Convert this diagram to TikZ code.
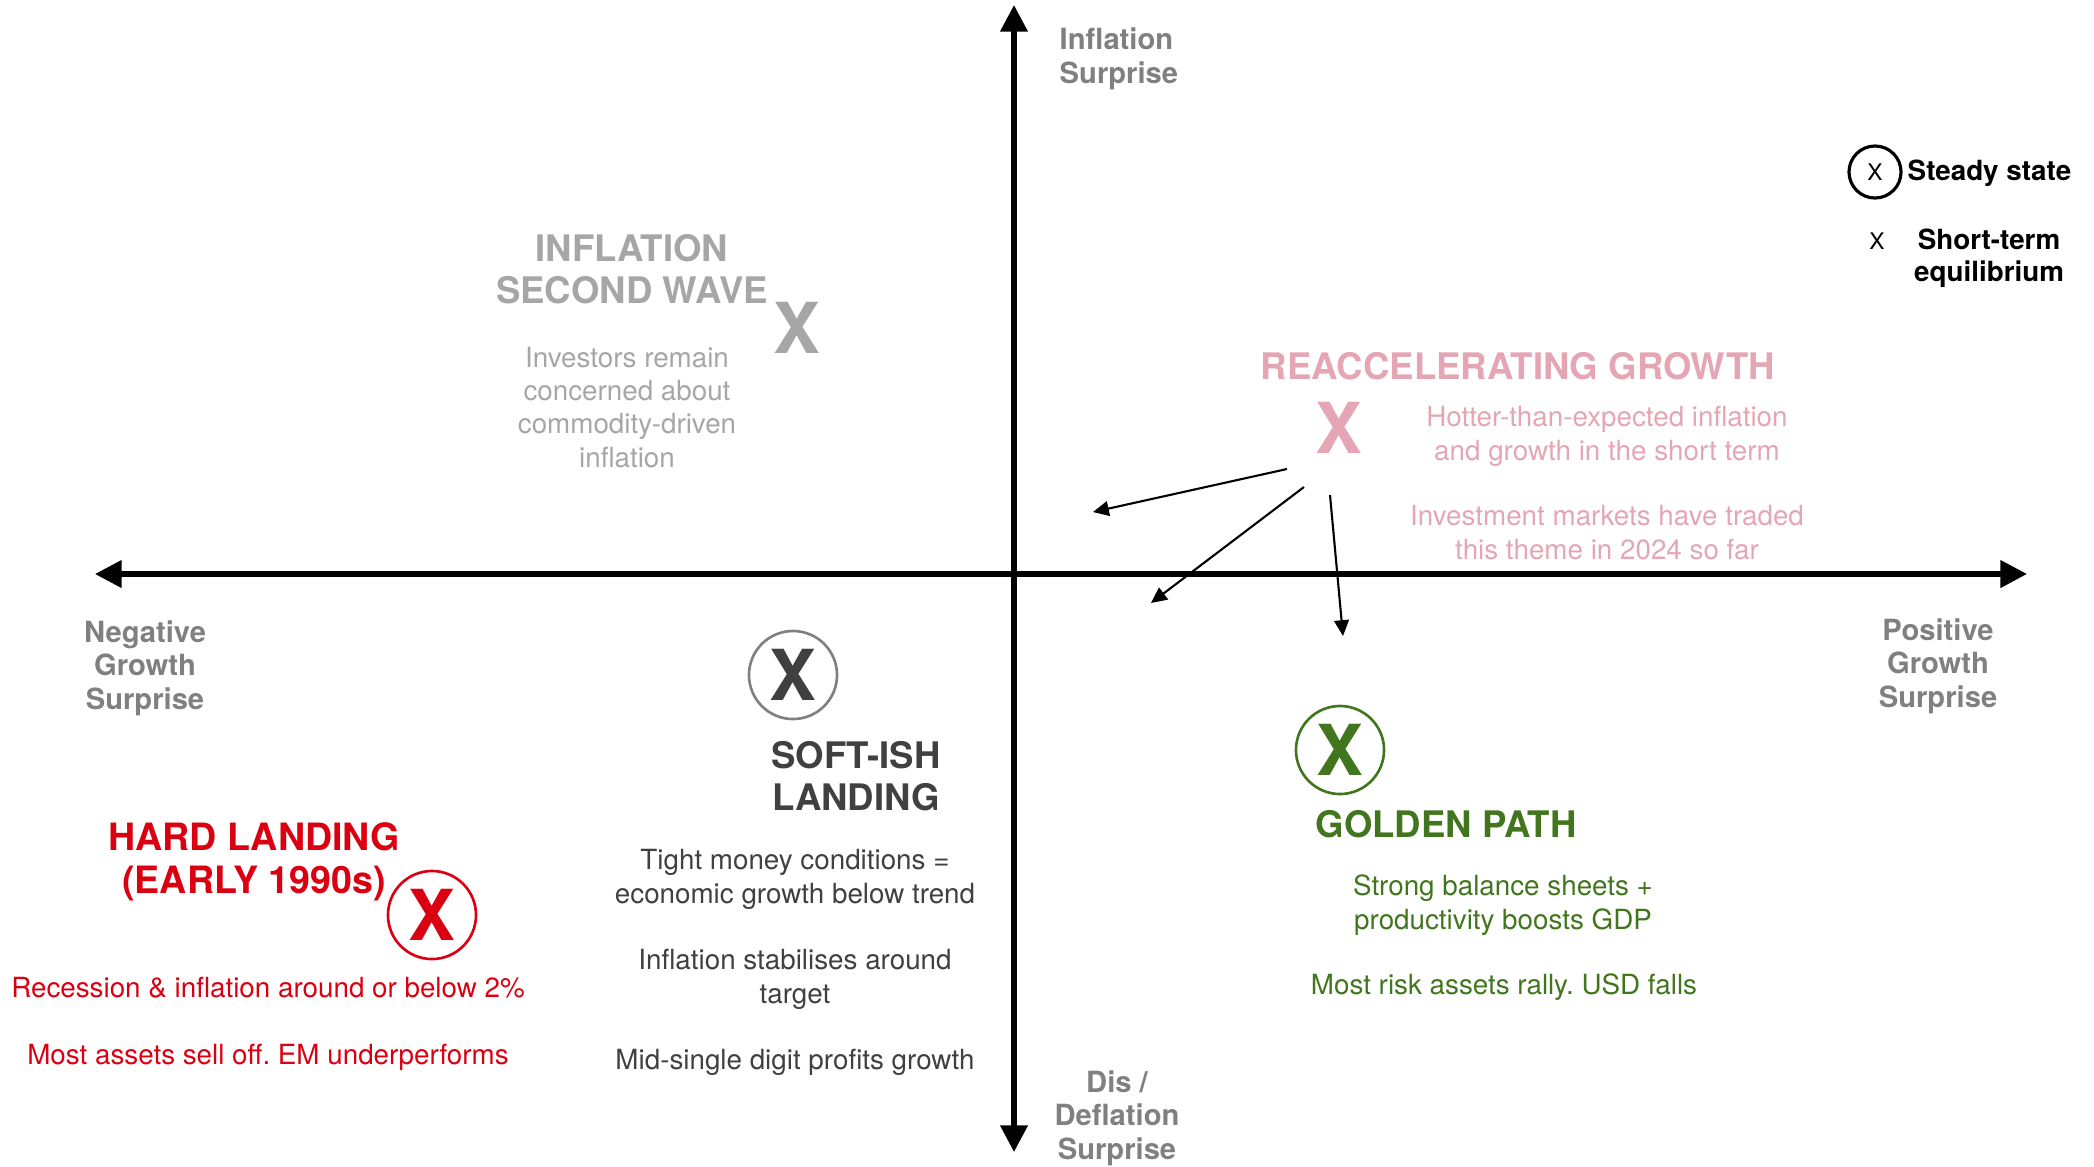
\documentclass[tikz,border=0pt]{standalone}
\usepackage{fontspec}
\setmainfont{TeX Gyre Heros}
\usetikzlibrary{arrows.meta,positioning}
\frenchspacing

\definecolor{axisgrey}{RGB}{128,128,128}
\definecolor{wavegrey}{RGB}{166,166,166}
\definecolor{reaccpink}{RGB}{228,166,180}
\definecolor{softgrey}{RGB}{64,64,64}
\definecolor{ringgrey}{RGB}{128,128,128}
\definecolor{goldgreen}{RGB}{66,118,30}
\definecolor{hardred}{RGB}{219,0,17}

\tikzset{
	axis/.style={line width=1.5pt,{Triangle[length=7.6pt,width=7.6pt]}-{Triangle[length=7.6pt,width=7.6pt]}},
	shift arrow/.style={line width=0.6pt,-{Triangle[length=4.5pt,width=4.2pt]}},
	axislabel/.style={inner sep=0pt,text=axisgrey,align=center,font={\fontsize{8.3}{9.5}\selectfont\bfseries}},
	heading/.style={inner sep=0pt,align=center,font={\fontsize{10.4}{11.8}\selectfont\bfseries}},
	body/.style={inner sep=0pt,align=center,font={\fontsize{7.9}{9.4}\selectfont}},
	bigx/.style={inner sep=0pt,font={\fontsize{20}{20}\selectfont\bfseries}},
	ringx/.style={bigx,circle,draw=#1,line width=0.75pt,minimum size=0.88cm}
}

\begin{document}
\begin{tikzpicture}[x=0.01cm,y=-0.01cm]
	\useasboundingbox (0,0) rectangle (2094,1166);

	% the two axes
	\coordinate (west) at (95,574);
	\coordinate (east) at (2027,574);
	\coordinate (top) at (1014,5);
	\coordinate (bottom) at (1014,1152);
	\draw[axis] (west) -- (east);
	\draw[axis] (bottom) -- (top);

	% labels sit on the baseline of their last line
	\node[axislabel,anchor=base west,align=left] (inflsurp) at (1059,83) {Inflation\\Surprise};
	\node[axislabel,anchor=base] (deflsurp) at (1117,1159) {Dis /\\Deflation\\Surprise};
	\node[axislabel,anchor=base] (neggrowth) at (145,709) {Negative\\Growth\\Surprise};
	\node[axislabel,anchor=base] (posgrowth) at (1938,707) {Positive\\Growth\\Surprise};

	% legend
	\node[circle,draw,line width=0.9pt,minimum size=0.52cm,inner sep=0pt,font={\fontsize{6.5}{6.5}\selectfont}] (steadyx) at (1875,172) {X};
	\node[anchor=base west,inner sep=0pt,font={\fontsize{7.9}{9.1}\selectfont\bfseries}] (steady) at (1907,180) {Steady state};
	\node[inner sep=0pt,font={\fontsize{6.5}{6.5}\selectfont}] (shortx) at (1877,241) {X};
	\node[anchor=base,align=center,inner sep=0pt,font={\fontsize{7.9}{9.1}\selectfont\bfseries}] (shortterm) at (1989,281) {Short-term\\equilibrium};

	% inflation second wave
	\node[heading,text=wavegrey,anchor=base] (wave) at (632,303) {INFLATION\\SECOND WAVE};
	\node[bigx,text=wavegrey] (wavex) at (797,328) {X};
	\node[body,text=wavegrey,anchor=base] (wavetxt) at (627,467) {Investors remain\\concerned about\\commodity-driven\\inflation};

	% reaccelerating growth
	\node[heading,text=reaccpink,anchor=base] (reacc) at (1518,379) {REACCELERATING GROWTH};
	\node[bigx,text=reaccpink] (reaccx) at (1339,428) {X};
	\node[body,text=reaccpink,anchor=base] (reacctxt) at (1607,460) {Hotter-than-expected inflation\\and growth in the short term};
	\node[body,text=reaccpink,anchor=base] (reaccmkt) at (1607,559) {Investment markets have traded\\this theme in 2024 so far};

	\coordinate (from1) at (1287,469);
	\coordinate (to1) at (1093,512);
	\coordinate (from2) at (1304,487);
	\coordinate (to2) at (1151,603);
	\coordinate (from3) at (1330,495);
	\coordinate (to3) at (1343,636);
	\draw[shift arrow] (from1) -- (to1);
	\draw[shift arrow] (from2) -- (to2);
	\draw[shift arrow] (from3) -- (to3);

	% soft-ish landing
	\node[ringx=ringgrey,text=softgrey] (softx) at (793,675) {X};
	\node[heading,text=softgrey,anchor=base,font={\fontsize{10.4}{11.9}\selectfont\bfseries}] (soft) at (856,810) {SOFT-ISH\\LANDING};
	\node[body,text=softgrey,anchor=base] (softtxt) at (795,903) {Tight money conditions =\\economic growth below trend};
	\node[body,text=softgrey,anchor=base] (softinfl) at (795,1003) {Inflation stabilises around\\target};
	\node[body,text=softgrey,anchor=base] (softprof) at (795,1069) {Mid-single digit profits growth};

	% golden path
	\node[ringx=goldgreen,text=goldgreen] (goldx) at (1340,750) {X};
	\node[heading,text=goldgreen,anchor=base west] (gold) at (1315,837) {GOLDEN PATH};
	\node[body,text=goldgreen,anchor=base] (goldtxt) at (1503,929) {Strong balance sheets +\\productivity boosts GDP};
	\node[body,text=goldgreen,anchor=base] (goldmkt) at (1504,994) {Most risk assets rally. USD falls};

	% hard landing
	\node[ringx=hardred,text=hardred] (hardx) at (432,915) {X};
	\node[heading,text=hardred,anchor=base,font={\fontsize{10.7}{12.1}\selectfont\bfseries}] (hard) at (254,893) {HARD LANDING\\(EARLY 1990s)};
	\node[body,text=hardred,anchor=base] (hardtxt) at (268,997) {Recession \& inflation around or below 2\%};
	\node[body,text=hardred,anchor=base] (hardmkt) at (268,1064) {Most assets sell off. EM underperforms};

\end{tikzpicture}
\end{document}
